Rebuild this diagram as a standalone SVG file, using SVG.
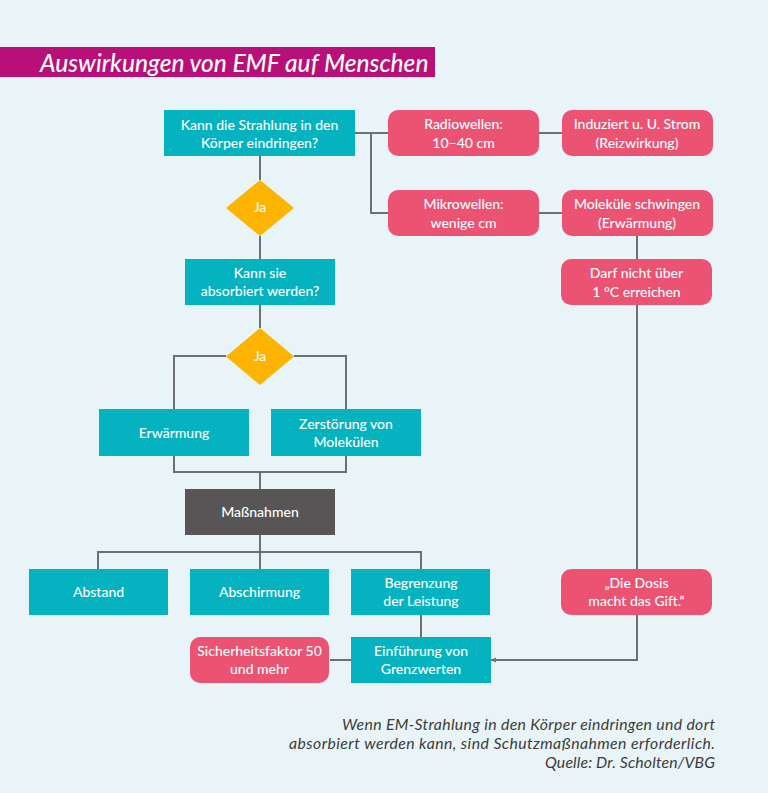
<svg xmlns="http://www.w3.org/2000/svg" width="768" height="793" viewBox="0 0 768 793">
<style>
text{font-family:"Lato","Open Sans","Liberation Sans",sans-serif}
.t{fill:#fff;font-size:14px;font-weight:500;text-anchor:middle}
.c{fill:#05b2bf}.p{fill:#ec5373}.d{fill:#fdb400}.g{fill:#575556}
.cap{fill:#3c3c3b;font-size:15.800px;font-style:italic;text-anchor:end}
#connectors path{fill:none;stroke:#6f6f6e;stroke-width:2}
</style>
<defs><marker id="a" markerUnits="userSpaceOnUse" markerWidth="6" markerHeight="6" refX="5" refY="3" orient="auto"><path d="M0 0.500L5 3L0 5.500Z" fill="#6f6f6e"/></marker></defs>
<rect width="768" height="793" fill="#e8f4f7"/>
<g id="title"><rect y="47" width="435" height="30" fill="#b80f78"/><text x="40" y="71.500" fill="#fff" font-size="24.500" font-style="italic" font-weight="500">Auswirkungen von EMF auf Menschen</text></g>
<g id="connectors">
<path d="M260 156V180M260 236V259M260 305V328M174 409V356H226M294 356H346V409M174 456V472H346V456M260 472V489M260 535V569M98 569V552H421V569M421 615V637"/>
<path d="M355 133H388M371 133V213H388M539 133H562M539 213H562M637 236V259M352 660H330"/>
<path d="M637 305V569M637 615V660H491" marker-end="url(#a)"/>
</g>
<g id="n1"><rect class="c" x="164" y="110" width="191" height="46"/><text class="t" x="259.500" y="130">Kann die Strahlung in den</text><text class="t" x="259.500" y="147.500">Körper eindringen?</text></g>
<g id="n2"><path class="d" d="M260 180L294 208L260 236L226 208Z"/><text class="t" x="260" y="212">Ja</text></g>
<g id="n3"><rect class="c" x="185" y="259" width="150" height="46"/><text class="t" x="260" y="278">Kann sie</text><text class="t" x="260" y="296">absorbiert werden?</text></g>
<g id="n4"><path class="d" d="M260 328L294 356.500L260 385L226 356.500Z"/><text class="t" x="260" y="360.500">Ja</text></g>
<g id="n5"><rect class="c" x="99" y="409" width="150" height="47"/><text class="t" x="174" y="438">Erwärmung</text></g>
<g id="n6"><rect class="c" x="271" y="409" width="150" height="47"/><text class="t" x="346" y="429">Zerstörung von</text><text class="t" x="346" y="447">Molekülen</text></g>
<g id="n7"><rect class="g" x="185" y="489" width="150" height="46"/><text class="t" x="260" y="517">Maßnahmen</text></g>
<g id="n8"><rect class="c" x="29" y="569" width="139" height="46"/><text class="t" x="98.500" y="597">Abstand</text></g>
<g id="n9"><rect class="c" x="190" y="569" width="139" height="46"/><text class="t" x="259.500" y="597">Abschirmung</text></g>
<g id="n10"><rect class="c" x="351" y="569" width="139" height="46"/><text class="t" x="421" y="588">Begrenzung</text><text class="t" x="421" y="606">der Leistung</text></g>
<g id="n11"><rect class="c" x="351" y="637" width="140" height="46"/><text class="t" x="421" y="656">Einführung von</text><text class="t" x="421" y="674">Grenzwerten</text></g>
<g id="n12"><rect class="p" x="190" y="637" width="139" height="46" rx="10"/><text class="t" x="259.500" y="656">Sicherheitsfaktor 50</text><text class="t" x="259.500" y="674">und mehr</text></g>
<g id="n13"><rect class="p" x="388" y="110" width="151" height="46" rx="10"/><text class="t" x="463.500" y="129">Radiowellen:</text><text class="t" x="463.500" y="147.500">10–40 cm</text></g>
<g id="n14"><rect class="p" x="562" y="110" width="151" height="46" rx="10"/><text class="t" x="637" y="129">Induziert u. U. Strom</text><text class="t" x="637" y="147.500">(Reizwirkung)</text></g>
<g id="n15"><rect class="p" x="388" y="190" width="151" height="46" rx="10"/><text class="t" x="463.500" y="209">Mikrowellen:</text><text class="t" x="463.500" y="228">wenige cm</text></g>
<g id="n16"><rect class="p" x="562" y="190" width="151" height="46" rx="10"/><text class="t" x="637" y="209">Moleküle schwingen</text><text class="t" x="637" y="228">(Erwärmung)</text></g>
<g id="n17"><rect class="p" x="561" y="259" width="151" height="46" rx="10"/><text class="t" x="636.500" y="278">Darf nicht über</text><text class="t" x="636.500" y="297">1 °C erreichen</text></g>
<g id="n18"><rect class="p" x="561" y="569" width="151" height="46" rx="10"/><text class="t" x="636.500" y="588">„Die Dosis</text><text class="t" x="636.500" y="606">macht das Gift.“</text></g>
<g id="caption"><text class="cap" x="715" y="729.500" textLength="373">Wenn EM-Strahlung in den Körper eindringen und dort</text><text class="cap" x="715" y="748.500" textLength="426">absorbiert werden kann, sind Schutzmaßnahmen erforderlich.</text><text class="cap" x="715" y="767.500" textLength="170">Quelle: Dr. Scholten/VBG</text></g>
</svg>
